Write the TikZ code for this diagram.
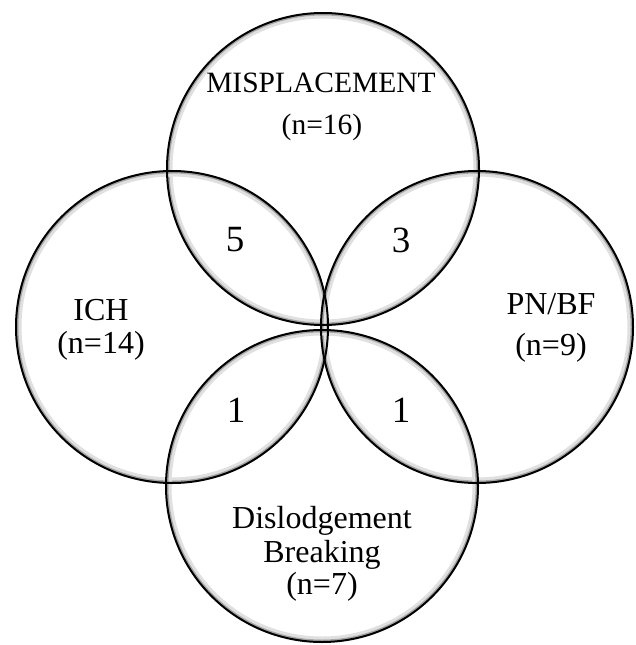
\documentclass[tikz,border=0pt]{standalone}
\usepackage{fontspec}
\setmainfont{Liberation Serif}
\begin{document}
\begin{tikzpicture}[x=1pt,y=-1pt,
  ring/.style={draw=black,line width=2pt},
  glowa/.style={draw=black!35,line width=2pt},
  glowb/.style={draw=black!12,line width=3pt},
  lbl/.style={font=\fontsize{32}{34}\selectfont,inner sep=0pt,anchor=base},
  lbltop/.style={font=\fontsize{29.5}{32}\selectfont,inner sep=0pt,anchor=base},
  num/.style={font=\fontsize{37}{40}\selectfont,inner sep=0pt}]
\useasboundingbox (0,0) rectangle (635,645);
\fill[white] (0,0) rectangle (635,645);
\def\R{156}
\coordinate (ct) at (323,169);
\coordinate (cl) at (172,327);
\coordinate (cr) at (477,327);
\coordinate (cb) at (322,486);
\foreach \c in {ct,cl,cr,cb}{
  \draw[glowb] (\c) circle (\R-4);
  \draw[glowa] (\c) circle (\R-1.5);
}
\foreach \c in {ct,cl,cr,cb}{
  \draw[ring] (\c) circle (\R);
}
\node[lbltop] (t1) at (321,92) {MISPLACEMENT};
\node[lbltop] (t2) at (322,134) {(n=16)};
\node[lbl] (l1) at (101,320) {ICH};
\node[lbl] (l2) at (101,353) {(n=14)};
\node[lbl] (r1) at (551,314) {PN/BF};
\node[lbl] (r2) at (551,355) {(n=9)};
\node[lbl] (b1) at (322,528) {Dislodgement};
\node[lbl] (b2) at (322,562) {Breaking};
\node[lbl] (b3) at (322,594) {(n=7)};
\node[num] (n5) at (235,240) {5};
\node[num] (n3) at (401,240) {3};
\node[num] (n1a) at (236,410) {1};
\node[num] (n1b) at (401,410) {1};
\end{tikzpicture}
\end{document}
